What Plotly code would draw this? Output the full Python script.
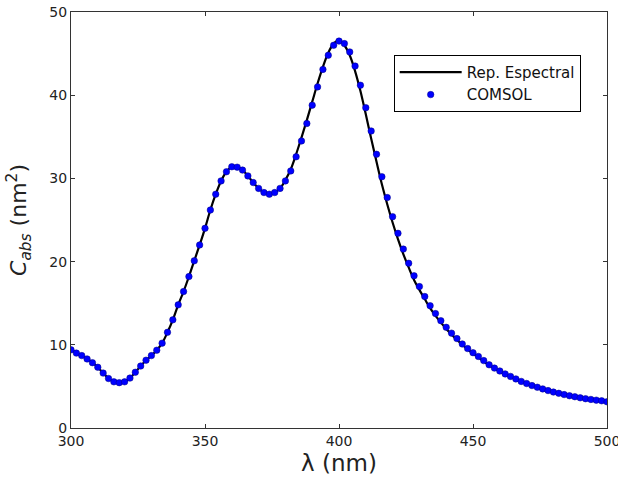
import plotly.graph_objects as go

wavelength = list(range(300, 501, 2))

comsol = [
    9.4, 9.0, 8.7, 8.3, 7.85, 7.3, 6.6, 5.95, 5.55, 5.45,
    5.55, 6.0, 6.7, 7.45, 8.15, 8.7, 9.35, 10.2, 11.5, 13.0,
    14.8, 16.4, 18.2, 20.1, 22.0, 24.0, 26.2, 28.1, 29.7, 30.8,
    31.4, 31.35, 31.0, 30.3, 29.5, 28.8, 28.3, 28.1, 28.3, 28.8,
    29.7, 30.9, 32.6, 34.5, 36.6, 38.8, 41.0, 43.1, 44.8, 46.0,
    46.5, 46.2, 45.2, 43.5, 41.2, 38.5, 35.7, 32.9, 30.2, 27.7,
    25.4, 23.4, 21.5, 19.8, 18.3, 17.0, 15.8, 14.7, 13.75, 12.9,
    12.1, 11.4, 10.75, 10.1, 9.55, 9.05, 8.6, 8.1, 7.6, 7.2,
    6.85, 6.5, 6.2, 5.9, 5.6, 5.35, 5.1, 4.9, 4.7, 4.5,
    4.32, 4.17, 4.02, 3.88, 3.76, 3.63, 3.52, 3.43, 3.35, 3.27,
    3.15,
]

espectral = [
    9.4, 9.0, 8.7, 8.3, 7.85, 7.3, 6.6, 5.95, 5.55, 5.45,
    5.55, 6.0, 6.7, 7.45, 8.15, 8.7, 9.35, 10.2, 11.5, 13.0,
    14.8, 16.4, 18.2, 20.1, 22.0, 24.0, 26.2, 28.1, 29.7, 30.8,
    31.4, 31.35, 31.0, 30.3, 29.5, 28.8, 28.3, 28.1, 28.3, 28.8,
    29.8, 31.1, 32.9, 34.9, 37.0, 39.2, 41.4, 43.4, 45.1, 46.2,
    46.6, 46.0, 44.8, 42.9, 40.5, 37.7, 34.8, 32.0, 29.3, 26.9,
    24.7, 22.7, 20.9, 19.3, 17.8, 16.6, 15.5, 14.4, 13.5, 12.7,
    11.9, 11.25, 10.6, 10.0, 9.45, 8.95, 8.5, 8.0, 7.55, 7.15,
    6.8, 6.45, 6.15, 5.85, 5.55, 5.3, 5.05, 4.85, 4.65, 4.45,
    4.28, 4.13, 3.98, 3.85, 3.73, 3.6, 3.5, 3.4, 3.32, 3.24,
    3.12,
]

x_ticks = [300, 350, 400, 450, 500]
y_ticks = [0, 10, 20, 30, 40, 50]

fig = go.Figure()
fig.add_trace(go.Scatter(
    x=wavelength, y=espectral, mode="lines", name="Rep. Espectral",
    line=dict(color="black", width=2.2, shape="spline"),
))
fig.add_trace(go.Scatter(
    x=wavelength, y=comsol, mode="markers", name="COMSOL",
    marker=dict(color="#0000ff", size=6.5, line=dict(color="#000080", width=0.5)),
))

axis_common = dict(
    showgrid=False, zeroline=False, showline=True, linecolor="#333333",
    linewidth=1.2, mirror="ticks", ticks="inside", ticklen=4,
    tickcolor="#333333", tickfont=dict(family="DejaVu Sans", size=14, color="#222222"),
    automargin=False,
)

fig.update_layout(
    width=618, height=482,
    margin=dict(l=71, r=11, t=12, b=54),
    paper_bgcolor="white", plot_bgcolor="white",
    font=dict(family="DejaVu Sans", color="#222222"),
    xaxis=dict(range=[300, 500], tickvals=x_ticks, ticklabeloverflow="allow",
               title=dict(text="λ (nm)", font=dict(size=23), standoff=6),
               **axis_common),
    yaxis=dict(range=[0, 50], tickvals=y_ticks,
               title=dict(text="<i>C</i><sub><i>abs</i></sub> (nm<sup>2</sup>)",
                          font=dict(size=22), standoff=16),
               **axis_common),
    legend=dict(x=0.602, y=0.897, xanchor="left", yanchor="top",
                bgcolor="white", bordercolor="black", borderwidth=1,
                font=dict(family="DejaVu Sans", size=15, color="#111111"),
                tracegroupgap=0, itemwidth=62),
    showlegend=True,
)

fig.write_html("out.html")
